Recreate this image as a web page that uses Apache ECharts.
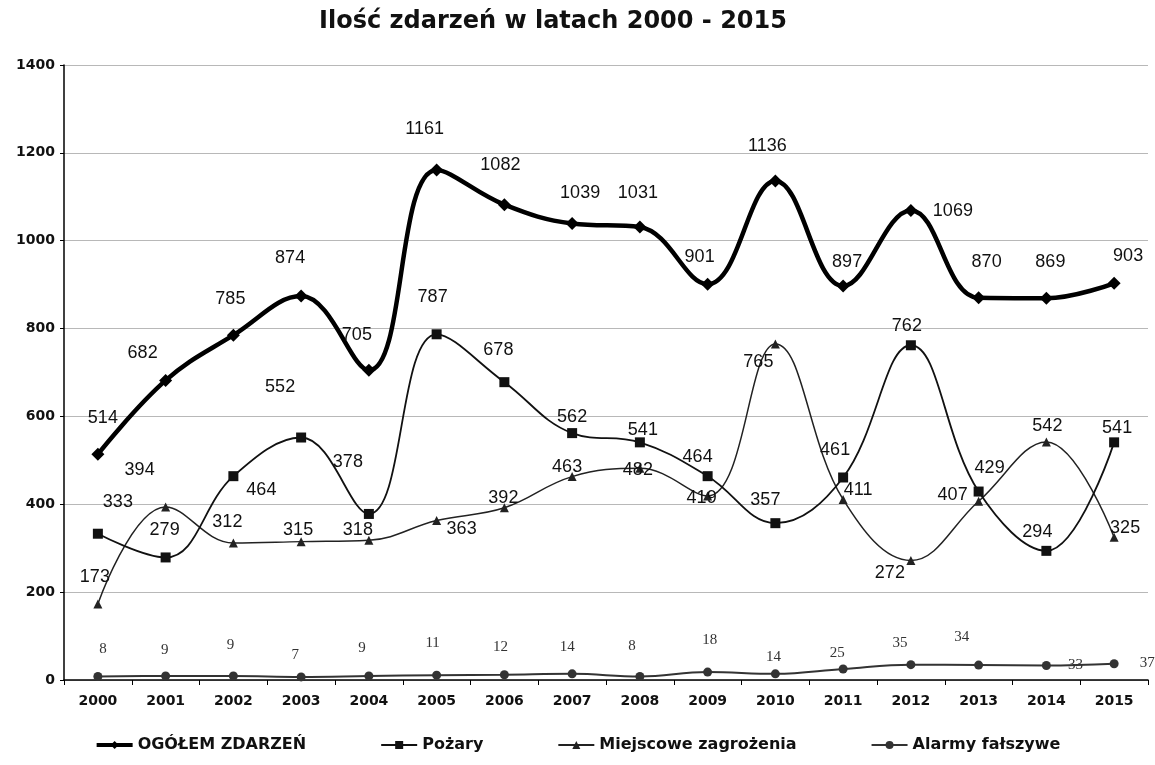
<!DOCTYPE html>
<html>
<head>
<meta charset="utf-8">
<script src="https://cdn.jsdelivr.net/npm/echarts@6/dist/echarts.min.js"></script>
<style>
  html, body { margin: 0; padding: 0; background: #fff; }
  #chart { width: 1155px; height: 765px; }
</style>
</head>
<body>
<div id="chart"></div>
<script>
// ---- data ----
const years = ['2000','2001','2002','2003','2004','2005','2006','2007','2008','2009','2010','2011','2012','2013','2014','2015'];
const ogolem = [514, 682, 785, 874, 705, 1161, 1082, 1039, 1031, 901, 1136, 897, 1069, 870, 869, 903];
const pozary = [333, 279, 464, 552, 378, 787, 678, 562, 541, 464, 357, 461, 762, 429, 294, 541];
const miejscowe = [173, 394, 312, 315, 318, 363, 392, 463, 482, 419, 765, 411, 272, 407, 542, 325];
const alarmy = [8, 9, 9, 7, 9, 11, 12, 14, 8, 18, 14, 25, 35, 34, 33, 37];
const seriesNames = ['OGÓŁEM ZDARZEŃ', 'Pożary', 'Miejscowe zagrożenia', 'Alarmy fałszywe'];
const yTicks = { min: 0, max: 1400, interval: 200 };

// ---- label placement (styling, relative to each point) ----
const ogolemOff = [[5,-36],[-23,-27],[-3,-36],[-11,-38],[-12,-35],[-12,-41],[-4,-40],[8,-31],[-2,-34],[-8,-27],[-8,-35],[4,-24],[42,1],[8,-36],[4,-36],[14,-27]];
const pozaryOff = [[20,-32],[-1,-27],[28,14],[-21,-50],[-21,-52],[-4,-37],[-6,-32],[0,-16],[3,-12],[-10,-19],[-10,-23],[-8,-27],[-4,-19],[11,-24],[-9,-19],[3,-14]];
const miejscoweOff = [[-3,-27],[-26,-37],[-6,-21],[-3,-12],[-11,-10],[25,8],[-1,-10],[-5,-10],[-2,2],[-6,2],[-17,18],[15,-9],[-21,13],[-26,-6],[1,-16],[11,-9]];
const alarmyOff = [[5,-27],[-1,-26],[-3,-31],[-6,-22],[-7,-28],[-4,-32],[-4,-28],[-5,-27],[-8,-30],[2,-32],[-2,-17],[-6,-16],[-11,-22],[-17,-28],[29,0],[33,-1]];

function withLabels(values, offsets, font) {
  return values.map((v, i) => ({
    value: v,
    label: Object.assign({ show: true, position: 'inside', offset: offsets[i] }, font)
  }));
}

const sansLabel = { fontFamily: 'Liberation Sans, Arial, sans-serif', fontSize: 18, color: '#111' };
const serifLabel = { fontFamily: 'Liberation Serif, Times New Roman, serif', fontSize: 15, color: '#333' };
const lineWidths = [4.5, 1.8, 1.5, 2];

const chart = echarts.init(document.getElementById('chart'), null, { renderer: 'canvas' });
chart.setOption({
  animation: false,
  backgroundColor: '#fff',
  title: {
    text: 'Ilość zdarzeń w latach 2000 - 2015',
    left: 548, top: 5, textAlign: 'center',
    textStyle: { fontFamily: 'DejaVu Sans, Verdana, sans-serif', fontWeight: 'bold', fontSize: 24, color: '#111' }
  },
  legend: {
    bottom: 7, left: 'center',
    itemGap: 74, itemWidth: 36, itemHeight: 10,
    data: seriesNames.map((n, i) => ({ name: n, lineStyle: { width: i === 0 ? 4 : 2 } })),
    textStyle: { fontFamily: 'DejaVu Sans, Verdana, sans-serif', fontWeight: 'bold', fontSize: 16, color: '#111' }
  },
  grid: { left: 64, right: 7, top: 65, bottom: 85, containLabel: false },
  xAxis: {
    type: 'category', data: years, boundaryGap: true,
    axisLine: { lineStyle: { color: '#000', width: 1.5 } },
    axisTick: { show: true, length: 5, lineStyle: { color: '#000' } },
    axisLabel: { fontFamily: 'DejaVu Sans, Verdana, sans-serif', fontWeight: 'bold', fontSize: 14, color: '#111', margin: 14 },
    splitLine: { show: false }
  },
  yAxis: {
    type: 'value', min: yTicks.min, max: yTicks.max, interval: yTicks.interval,
    axisLine: { show: true, lineStyle: { color: '#000', width: 1.5 } },
    axisTick: { show: true, length: 4, lineStyle: { color: '#000' } },
    axisLabel: { fontFamily: 'DejaVu Sans, Verdana, sans-serif', fontWeight: 'bold', fontSize: 14, color: '#111', margin: 9,
      formatter: v => String(v) },
    splitLine: { show: true, lineStyle: { color: '#b8b8b8', width: 1 } }
  },
  series: [
    {
      name: seriesNames[0], type: 'line', smooth: 0.4,
      data: withLabels(ogolem, ogolemOff, sansLabel),
      symbol: 'diamond', symbolSize: 13,
      lineStyle: { color: '#000', width: lineWidths[0] },
      itemStyle: { color: '#000' }, z: 5
    },
    {
      name: seriesNames[1], type: 'line', smooth: 0.4,
      data: withLabels(pozary, pozaryOff, sansLabel),
      symbol: 'rect', symbolSize: 10,
      lineStyle: { color: '#111', width: lineWidths[1] },
      itemStyle: { color: '#111' }, z: 4
    },
    {
      name: seriesNames[2], type: 'line', smooth: 0.4,
      data: withLabels(miejscowe, miejscoweOff, sansLabel),
      symbol: 'triangle', symbolSize: 9,
      lineStyle: { color: '#222', width: lineWidths[2] },
      itemStyle: { color: '#222' }, z: 3
    },
    {
      name: seriesNames[3], type: 'line', smooth: 0.4,
      data: withLabels(alarmy, alarmyOff, serifLabel),
      symbol: 'circle', symbolSize: 9,
      lineStyle: { color: '#333', width: lineWidths[3] },
      itemStyle: { color: '#333' }, z: 2
    }
  ]
});
</script>
</body>
</html>
